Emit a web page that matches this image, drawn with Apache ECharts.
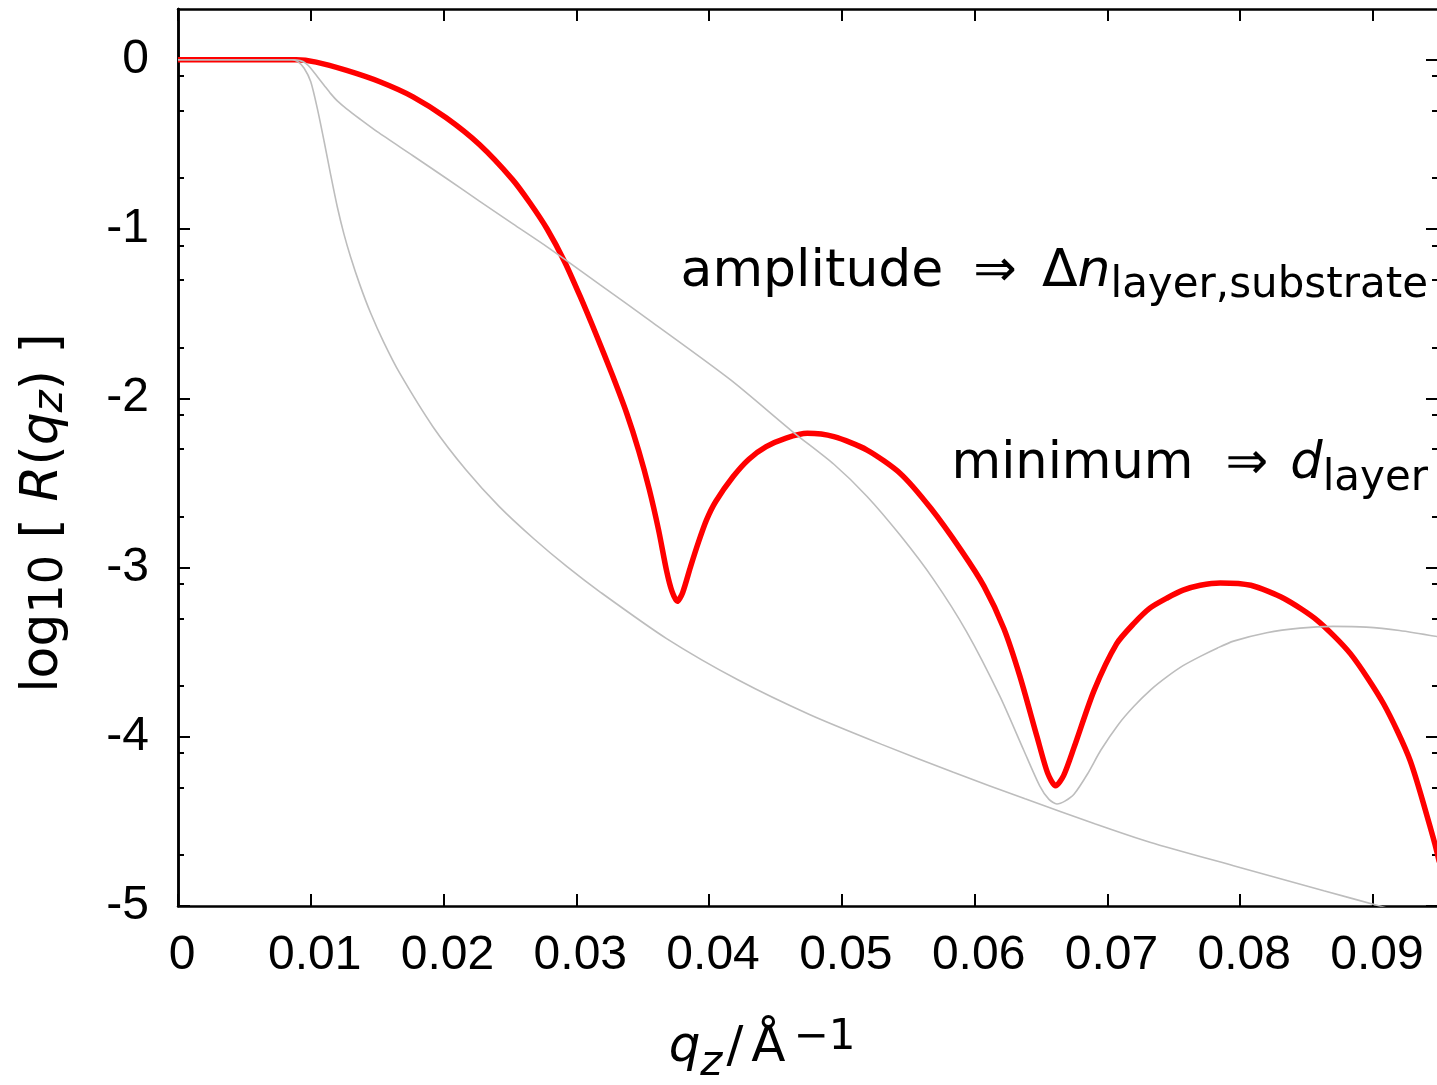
<!DOCTYPE html>
<html>
<head>
<meta charset="utf-8">
<script src="https://cdn.jsdelivr.net/npm/echarts@6/dist/echarts.min.js"></script>
<style>
  html, body { margin: 0; padding: 0; background: #fff; }
  #chart { width: 1437px; height: 1085px; }
</style>
</head>
<body>
<div id="chart"></div>
<script>
// tick labels
const xTicks = [0, 0.01, 0.02, 0.03, 0.04, 0.05, 0.06, 0.07, 0.08, 0.09];
const yTicks = [-5, -4, -3, -2, -1, 0];
const yMinorTicks = [-0.097, -0.301, -0.699, -1.097, -1.301, -1.699, -2.097, -2.301, -2.699,
  -3.097, -3.301, -3.699, -4.097, -4.301, -4.699];

// layer on substrate (red)
const qLayer = [0, 0.0089, 0.0104, 0.0127, 0.0152, 0.0177, 0.0202, 0.0227, 0.0252, 0.0265, 0.0278,
  0.0291, 0.0303, 0.0315, 0.0327, 0.0338, 0.0347, 0.0355, 0.0362, 0.0368, 0.0372, 0.0376, 0.0380,
  0.0386, 0.0392, 0.0398, 0.0405, 0.0418, 0.0430, 0.0443, 0.0458, 0.0474, 0.0494, 0.0519, 0.0544,
  0.0567, 0.0590, 0.0607, 0.0622, 0.0634, 0.0647, 0.0655, 0.0661, 0.0667, 0.0675, 0.0690, 0.0707,
  0.0720, 0.0732, 0.0745, 0.0757, 0.0770, 0.0785, 0.0808, 0.0833, 0.0858, 0.0883, 0.0908, 0.0928,
  0.0946, 0.0950];
const logLayer = [0, 0, -0.014, -0.063, -0.13, -0.219, -0.343, -0.501, -0.708, -0.845, -1.00,
  -1.19, -1.40, -1.625, -1.86, -2.09, -2.31, -2.54, -2.78, -3.02, -3.14, -3.20, -3.15,
  -2.996, -2.85, -2.72, -2.61, -2.464, -2.36, -2.286, -2.235, -2.207, -2.227, -2.306, -2.444,
  -2.65, -2.90, -3.11, -3.36, -3.64, -4.00, -4.215, -4.29, -4.23, -4.06, -3.726, -3.45,
  -3.33, -3.24, -3.18, -3.134, -3.105, -3.091, -3.105, -3.183, -3.312, -3.509, -3.805, -4.14,
  -4.614, -4.74];

// bare substrate (grey, steep)
const qSubstrate = [0, 0.0086, 0.0090, 0.0095, 0.0100, 0.0105, 0.0110, 0.0115, 0.0120, 0.0125,
  0.0130, 0.0137, 0.0145, 0.0155, 0.0167, 0.0192, 0.0217, 0.0242, 0.0268, 0.0293, 0.0318, 0.0368,
  0.0422, 0.0476, 0.0530, 0.0584, 0.0638, 0.0691, 0.0732, 0.0795, 0.0863, 0.0905, 0.0950];
const logSubstrate = [0, 0, -0.01, -0.05, -0.13, -0.29, -0.48, -0.68, -0.87, -1.03,
  -1.165, -1.33, -1.495, -1.67, -1.852, -2.168, -2.424, -2.64, -2.83, -2.995, -3.145, -3.42,
  -3.665, -3.87, -4.045, -4.21, -4.367, -4.515, -4.623, -4.762, -4.91, -5.0, -5.1];

// other layer (grey, weaker contrast)
const qFilm = [0, 0.0087, 0.0092, 0.0096, 0.0100, 0.0105, 0.0110, 0.0115, 0.0120, 0.0127, 0.0137,
  0.0150, 0.0177, 0.0202, 0.0227, 0.0252, 0.0278, 0.0295, 0.0318, 0.0357, 0.0416, 0.0463, 0.0494,
  0.0519, 0.0544, 0.0569, 0.0594, 0.0619, 0.0637, 0.0649, 0.0656, 0.0662, 0.0668, 0.0675, 0.0685,
  0.0695, 0.0708, 0.0720, 0.0733, 0.0745, 0.0757, 0.0770, 0.0783, 0.0795, 0.0820, 0.0845, 0.0870,
  0.0895, 0.0920, 0.0950];
const logFilm = [0, 0, -0.005, -0.02, -0.05, -0.10, -0.15, -0.20, -0.243, -0.29, -0.35,
  -0.425, -0.567, -0.70, -0.835, -0.968, -1.105, -1.20, -1.33, -1.55, -1.89, -2.198, -2.39,
  -2.58, -2.81, -3.07, -3.38, -3.76, -4.08, -4.29, -4.37, -4.397, -4.38, -4.338, -4.22,
  -4.08, -3.93, -3.82, -3.72, -3.645, -3.58, -3.525, -3.475, -3.435, -3.385, -3.358, -3.348,
  -3.352, -3.372, -3.41];

const X_MIN = 0, X_MAX = 0.0949;
const Y_MIN = -5, Y_MAX = 0.3;

const pairs = (xs, ys) => xs.map((x, i) => [x, ys[i]]);

const tickFont = { fontFamily: "Liberation Sans", fontSize: 48, color: "#000" };
const frame = { show: true, onZero: false, lineStyle: { color: "#000", width: 2.5 } };
const tickLine = { color: "#000", width: 2 };

function xAxis(position, withLabels) {
  return {
    type: "value",
    position,
    min: X_MIN,
    max: X_MAX,
    axisLine: frame,
    splitLine: { show: false },
    axisTick: { show: true, inside: true, length: 12, customValues: xTicks, lineStyle: tickLine },
    axisLabel: {
      show: withLabels,
      customValues: xTicks,
      margin: 26,
      padding: [0, 0, 0, 8],
      ...tickFont,
      formatter: (v) => (v === 0 ? "0" : v.toFixed(2)),
    },
  };
}

function yAxis(position, ticks, length, withLabels) {
  return {
    type: "value",
    position,
    min: Y_MIN,
    max: Y_MAX,
    axisLine: frame,
    splitLine: { show: false },
    axisTick: { show: true, inside: true, length, customValues: ticks, lineStyle: tickLine },
    axisLabel: {
      show: withLabels,
      customValues: withLabels ? yTicks : undefined,
      margin: 29,
      ...tickFont,
      formatter: (v) => String(v),
    },
  };
}

function curve(xs, ys, color, width, z) {
  return {
    type: "line",
    data: pairs(xs, ys),
    showSymbol: false,
    smooth: 0.25,
    lineStyle: { color, width },
    z,
  };
}

const base = { fontFamily: "DejaVu Sans", fill: "#000" };
const big = 52, small = 42;

const chart = echarts.init(document.getElementById("chart"), null, { renderer: "canvas" });
chart.setOption({
  animation: false,
  backgroundColor: "#fff",
  grid: { left: 178, top: 9, width: 1260, height: 897, outerBoundsMode: "none", containLabel: false },
  xAxis: [xAxis("bottom", true), xAxis("top", false)],
  yAxis: [
    yAxis("left", yTicks, 12, true),
    yAxis("left", yMinorTicks, 6, false),
    yAxis("right", yTicks, 12, false),
    yAxis("right", yMinorTicks, 6, false),
  ],
  series: [
    curve(qLayer, logLayer, "#ff0000", 5.5, 2),
    curve(qSubstrate, logSubstrate, "#bdbdbd", 1.6, 3),
    curve(qFilm, logFilm, "#bdbdbd", 1.6, 3),
  ],
  graphic: [
    {
      type: "text", x: 1428, y: 272, z: 10,
      style: {
        ...base, align: "right", verticalAlign: "middle", textAlign: "right", textVerticalAlign: "middle",
        text: "{t|amplitude}{a|\u21D2}{t|\u0394}{i|n}{s|layer,substrate}",
        rich: {
          t: { ...base, fontSize: big },
          a: { ...base, fontSize: big, padding: [0, 25, 0, 30] },
          i: { ...base, fontSize: big, fontStyle: "italic" },
          s: { ...base, fontSize: small, padding: [28, 0, 0, 0] },
        },
      },
    },
    {
      type: "text", x: 1428, y: 465, z: 10,
      style: {
        ...base, align: "right", verticalAlign: "middle", textAlign: "right", textVerticalAlign: "middle",
        text: "{t|minimum}{a|\u21D2}{i|d}{s|layer}",
        rich: {
          t: { ...base, fontSize: 51 },
          a: { ...base, fontSize: 51, padding: [0, 22, 0, 32] },
          i: { ...base, fontSize: 51, fontStyle: "italic" },
          s: { ...base, fontSize: small, padding: [28, 0, 0, 0] },
        },
      },
    },
    {
      type: "text", x: 762, y: 1048, z: 10,
      style: {
        ...base, align: "center", verticalAlign: "middle", textAlign: "center", textVerticalAlign: "middle",
        text: "{i|q}{si|z}{t|/}{t|\u00C5}{sup|\u22121}",
        rich: {
          t: { ...base, fontSize: 50, padding: [0, 4, 0, 4] },
          i: { ...base, fontSize: 50, fontStyle: "italic" },
          si: { ...base, fontSize: small, fontStyle: "italic", padding: [32, 0, 0, 0] },
          sup: { ...base, fontSize: small, padding: [0, 0, 20, 4] },
        },
      },
    },
    {
      type: "text", x: 43, y: 513, rotation: Math.PI / 2, z: 10,
      style: {
        ...base, align: "center", verticalAlign: "middle", textAlign: "center", textVerticalAlign: "middle",
        text: "{t|log}{s|10}{t| [ }{i|R}{t|(}{i|q}{si|z}{t|) ]}",
        rich: {
          t: { ...base, fontSize: 52 },
          i: { ...base, fontSize: 52, fontStyle: "italic" },
          s: { ...base, fontSize: 46, padding: [14, 0, 0, 0] },
          si: { ...base, fontSize: 42, fontStyle: "italic", padding: [16, 0, 0, 0] },
        },
      },
    },
  ],
});
</script>
</body>
</html>
